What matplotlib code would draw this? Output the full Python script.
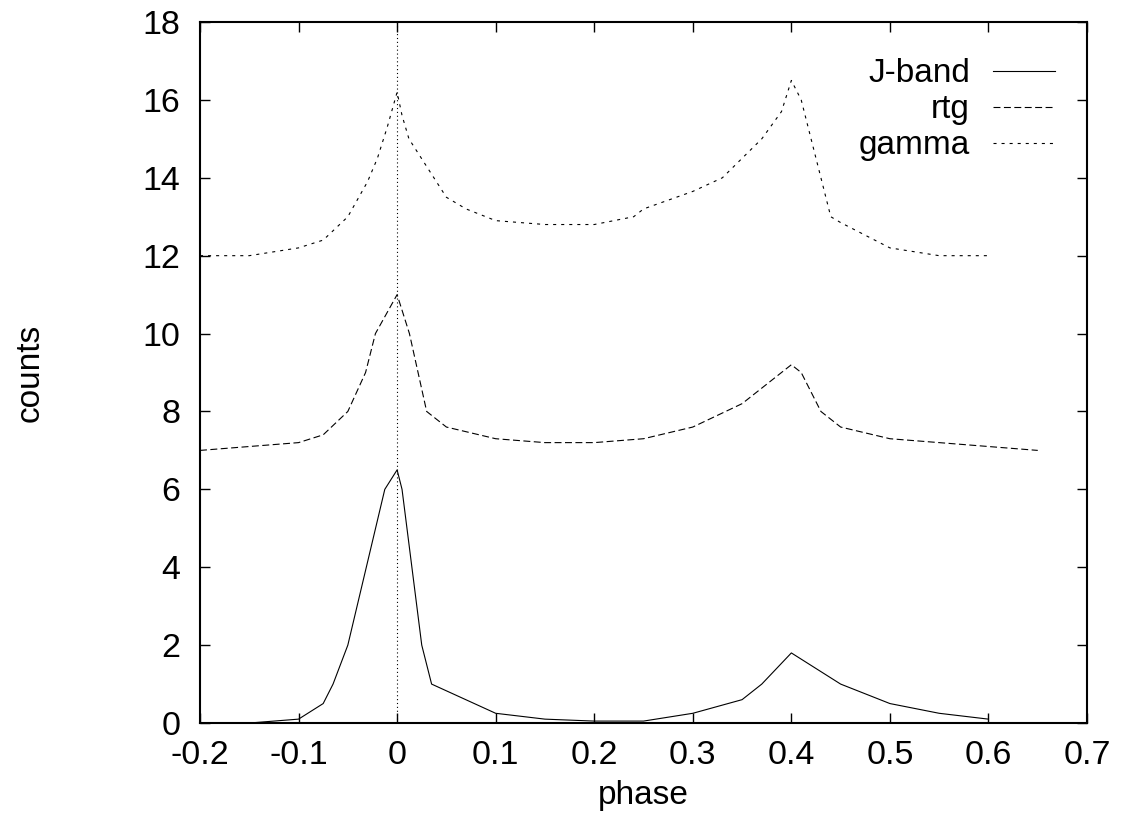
import matplotlib
matplotlib.use('Agg')
import matplotlib.pyplot as plt

plt.rcParams['font.family'] = ['Liberation Sans', 'DejaVu Sans']
plt.rcParams['lines.scale_dashes'] = False

# J-band (solid)
J_PHASE = [-0.15, -0.1, -0.075, -0.065, -0.05, -0.0125, 0.0, 0.005, 0.025, 0.035,
           0.1, 0.15, 0.2, 0.25, 0.3, 0.35, 0.37, 0.4, 0.45, 0.5, 0.55, 0.6]
J_COUNTS = [0.0, 0.1, 0.5, 1.0, 2.0, 6.0, 6.5, 6.0, 2.0, 1.0,
            0.25, 0.1, 0.05, 0.05, 0.25, 0.6, 1.0, 1.8, 1.0, 0.5, 0.25, 0.1]

# rtg (dashed)
RTG_PHASE = [-0.2, -0.1, -0.075, -0.05, -0.032, -0.022, 0.0, 0.0125, 0.03, 0.05,
             0.1, 0.15, 0.2, 0.25, 0.3, 0.35, 0.4, 0.41, 0.43, 0.45, 0.5, 0.6, 0.65]
RTG_COUNTS = [7.0, 7.2, 7.4, 8.0, 9.0, 10.0, 11.0, 10.0, 8.0, 7.6,
              7.3, 7.2, 7.2, 7.3, 7.6, 8.2, 9.2, 9.0, 8.0, 7.6, 7.3, 7.1, 7.0]

# gamma (short dashes)
GAM_PHASE = [-0.2, -0.15, -0.1, -0.075, -0.05, -0.03, -0.02, -0.01, 0.0, 0.005, 0.012,
             0.05, 0.07, 0.1, 0.15, 0.2, 0.24, 0.25, 0.3, 0.33, 0.37, 0.39, 0.4, 0.41,
             0.44, 0.45, 0.5, 0.55, 0.6]
GAM_COUNTS = [12.0, 12.0, 12.2, 12.4, 13.0, 13.9, 14.5, 15.3, 16.2, 15.6, 15.0,
              13.5, 13.2, 12.9, 12.8, 12.8, 13.0, 13.2, 13.65, 14.0, 15.0, 15.7, 16.5, 16.0,
              13.0, 12.85, 12.2, 12.0, 12.0]

XTICKS = [-0.2, -0.1, 0, 0.1, 0.2, 0.3, 0.4, 0.5, 0.6, 0.7]
XTICK_LABELS = ['-0.2', '-0.1', '0', '0.1', '0.2', '0.3', '0.4', '0.5', '0.6', '0.7']
YTICKS = [0, 2, 4, 6, 8, 10, 12, 14, 16, 18]

fig = plt.figure(figsize=(11.21, 8.18), dpi=100)
ax = fig.add_axes([0.1784, 0.1161, 0.7913, 0.857])

ax.axvline(0, color='black', linewidth=0.8, linestyle=(0, (0.8, 2.0)))

ax.plot(J_PHASE, J_COUNTS, color='black', linewidth=0.8, linestyle='-', label='J-band')
ax.plot(RTG_PHASE, RTG_COUNTS, color='black', linewidth=0.8, linestyle=(0, (5, 2.5)), label='rtg')
ax.plot(GAM_PHASE, GAM_COUNTS, color='black', linewidth=0.8, linestyle=(0, (2.2, 3.6)), label='gamma')

ax.set_xlim(-0.2, 0.7)
ax.set_ylim(0, 18)
ax.set_xticks(XTICKS)
ax.set_xticklabels(XTICK_LABELS)
ax.set_yticks(YTICKS)

for sp in ax.spines.values():
    sp.set_linewidth(1.5)

ax.tick_params(direction='in', length=7, width=1.0, top=True, right=True, labelsize=24.5)
ax.tick_params(axis='x', pad=12)
ax.tick_params(axis='y', pad=14)

ax.set_xlabel('phase', fontsize=24, labelpad=7)
ax.set_ylabel('counts', fontsize=24, labelpad=70)

ax.legend(loc='upper right', bbox_to_anchor=(0.964, 0.948), frameon=False,
          markerfirst=False, fontsize=24, handlelength=1.86, handletextpad=0.69,
          labelspacing=0.15, borderaxespad=0, borderpad=0)

fig.savefig('out.png', dpi=100)
